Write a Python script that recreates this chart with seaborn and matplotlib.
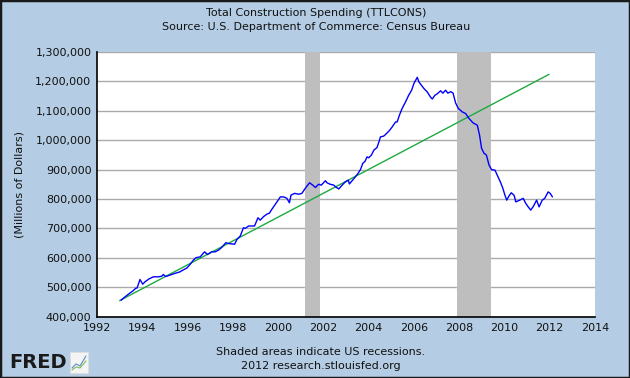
import numpy as np
import pandas as pd
import matplotlib
matplotlib.use("Agg")
import matplotlib.pyplot as plt
import matplotlib.ticker as mticker
import matplotlib.patches as mpatches
import seaborn as sns

# ---- data ----
years = [1993.06, 1993.16, 1993.39, 1993.60, 1993.71, 1993.77, 1993.90, 1994.02, 1994.12, 1994.30,
         1994.49, 1994.71, 1994.86, 1994.93, 1995.03, 1995.23, 1995.45, 1995.67, 1995.75, 1995.97,
         1996.12, 1996.26, 1996.37, 1996.56, 1996.75, 1996.88, 1997.07, 1997.22, 1997.37, 1997.51,
         1997.69, 1997.84, 1998.08, 1998.18, 1998.33, 1998.47, 1998.55, 1998.70, 1998.96, 1999.11,
         1999.21, 1999.36, 1999.50, 1999.62, 1999.70, 1999.80, 1999.95, 2000.10, 2000.25, 2000.39,
         2000.50, 2000.57, 2000.73, 2000.91, 2001.05, 2001.20, 2001.39, 2001.53, 2001.65, 2001.79,
         2001.91, 2002.09, 2002.16, 2002.30, 2002.46, 2002.56, 2002.68, 2002.83, 2002.97, 2003.10,
         2003.15, 2003.27, 2003.39, 2003.53, 2003.64, 2003.74, 2003.84, 2003.93, 2004.00, 2004.12,
         2004.23, 2004.37, 2004.48, 2004.52, 2004.67, 2004.82, 2004.92, 2005.04, 2005.19, 2005.26,
         2005.36, 2005.48, 2005.63, 2005.77, 2005.90, 2006.00, 2006.15, 2006.22, 2006.30, 2006.44,
         2006.59, 2006.73, 2006.81, 2006.93, 2007.02, 2007.18, 2007.28, 2007.40, 2007.50, 2007.63,
         2007.73, 2007.84, 2007.96, 2008.14, 2008.28, 2008.43, 2008.61, 2008.80, 2008.90, 2008.99,
         2009.10, 2009.20, 2009.32, 2009.43, 2009.58, 2009.68, 2009.83, 2009.93, 2010.02, 2010.10,
         2010.20, 2010.30, 2010.43, 2010.50, 2010.65, 2010.83, 2010.94, 2011.04, 2011.16, 2011.28,
         2011.42, 2011.53, 2011.67, 2011.78, 2011.93, 2012.02, 2012.12]
spending = [455000, 462000, 476000, 488000, 496000, 497000, 526000, 510000, 518000, 528000,
            535000, 535000, 537000, 543000, 536000, 541000, 547000, 552000, 556000, 565000,
            578000, 592000, 600000, 603000, 620000, 611000, 620000, 620000, 626000, 635000,
            651000, 648000, 646000, 662000, 674000, 702000, 700000, 708000, 708000, 736000,
            728000, 740000, 748000, 752000, 762000, 773000, 790000, 807000, 807000, 802000,
            787000, 813000, 819000, 816000, 819000, 836000, 855000, 847000, 839000, 850000,
            847000, 862000, 855000, 850000, 847000, 840000, 834000, 847000, 858000, 864000,
            851000, 862000, 873000, 887000, 900000, 921000, 928000, 943000, 940000, 949000,
            966000, 975000, 1000000, 1011000, 1014000, 1025000, 1033000, 1045000, 1062000, 1062000,
            1085000, 1108000, 1130000, 1153000, 1170000, 1193000, 1214000, 1198000, 1190000, 1176000,
            1164000, 1147000, 1140000, 1153000, 1157000, 1168000, 1160000, 1170000, 1160000, 1165000,
            1160000, 1127000, 1108000, 1096000, 1091000, 1074000, 1059000, 1051000, 1017000, 972000,
            955000, 950000, 915000, 900000, 898000, 881000, 856000, 836000, 813000, 796000,
            810000, 821000, 812000, 790000, 795000, 802000, 785000, 774000, 762000, 775000,
            796000, 773000, 796000, 802000, 824000, 819000, 807000]

trend_years = [1993.0, 2011.97]
trend_values = [454000, 1224000]

recession_starts = [2001.17, 2007.92]
recession_ends = [2001.83, 2009.42]

x_ticks = list(range(1992, 2016, 2))
y_ticks = list(range(400000, 1300001, 100000))

title_lines = ["Total Construction Spending (TTLCONS)",
               "Source: U.S. Department of Commerce: Census Bureau"]
y_label = "(Millions of Dollars)"
footer_lines = ["Shaded areas indicate US recessions.", "2012 research.stlouisfed.org"]

# ---- style ----
BG = "#B4CDE4"
sns.set_style("white")
plt.rcParams["font.family"] = ["DejaVu Sans"]

df = pd.DataFrame({"year": years, "value": spending})
dtrend = pd.DataFrame({"year": trend_years, "value": trend_values})

fig = plt.figure(figsize=(6.3, 3.78), dpi=100, facecolor=BG)
ax = fig.add_axes([97 / 630, 1 - 316.5 / 378, 498 / 630, 264.5 / 378])
ax.set_facecolor("white")

ax.set_xlim(1992, 2014)
ax.set_ylim(400000, 1300000)

for yv in y_ticks:
    ax.axhline(yv, color="#AAAAAA", lw=1.0, zorder=0.5)
for s, e in zip(recession_starts, recession_ends):
    ax.axvspan(s, e, color="#BEBEBE", lw=0, zorder=1)

sns.lineplot(data=dtrend, x="year", y="value", ax=ax, color="#1DAA3F", lw=1.0, zorder=3)
sns.lineplot(data=df, x="year", y="value", ax=ax, color="#0000FF", lw=1.0, zorder=4)

ax.set_xlabel("")
ax.set_ylabel("")
ax.set_xticks(x_ticks)
ax.set_yticks(y_ticks)
ax.yaxis.set_major_formatter(mticker.FuncFormatter(lambda v, p: f"{int(v):,}"))
ax.tick_params(axis="both", direction="in", length=5, width=1, color="black",
               labelsize=8, labelcolor="#111111")
ax.tick_params(axis="x", pad=5)
ax.tick_params(axis="y", pad=4)
ax.grid(False)
for side in ["top", "right"]:
    ax.spines[side].set_visible(False)
for side in ["left", "bottom"]:
    ax.spines[side].set_color("black")
    ax.spines[side].set_linewidth(1.2)

fig.text(316 / 630, 1 - 13 / 378, title_lines[0], ha="center", va="center", fontsize=8, color="#111111")
fig.text(316 / 630, 1 - 27 / 378, title_lines[1], ha="center", va="center", fontsize=8, color="#111111")
fig.text(20 / 630, 1 - 184 / 378, y_label, ha="center", va="center", rotation=90, fontsize=8, color="#111111")
fig.text(321 / 630, 1 - 352 / 378, footer_lines[0], ha="center", va="center", fontsize=8, color="#111111")
fig.text(321 / 630, 1 - 366 / 378, footer_lines[1], ha="center", va="center", fontsize=8, color="#111111")

# FRED logo
fig.text(9 / 630, 1 - 362 / 378, "FRED", ha="left", va="center", fontsize=14,
         fontweight="heavy", color="#1A1A1A")
fig.patches.append(mpatches.Rectangle((70 / 630, 1 - 373 / 378), 18 / 630, 21 / 378,
                                      transform=fig.transFigure, facecolor="#F4F4F4",
                                      edgecolor="#DDDDDD", lw=0.6))
fig.lines.append(plt.Line2D([72 / 630, 76 / 630, 80 / 630, 86 / 630],
                            [1 - 368 / 378, 1 - 364 / 378, 1 - 366 / 378, 1 - 356 / 378],
                            transform=fig.transFigure, color="#5B8BC9", lw=0.8))
fig.lines.append(plt.Line2D([72 / 630, 76 / 630, 80 / 630, 86 / 630],
                            [1 - 370 / 378, 1 - 367 / 378, 1 - 368 / 378, 1 - 361 / 378],
                            transform=fig.transFigure, color="#7DBB5A", lw=0.8))

# outer border
fig.patches.append(mpatches.Rectangle((0, 0), 1, 1, transform=fig.transFigure,
                                      fill=False, edgecolor="#1A1A1A", lw=2.5))

fig.savefig("out.png", dpi=100, facecolor=BG)
